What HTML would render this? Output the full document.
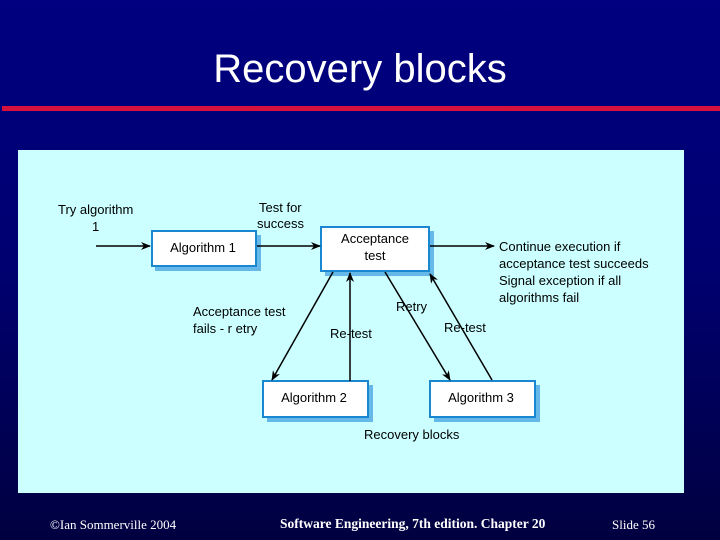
<!DOCTYPE html>
<html><head><meta charset="utf-8"><style>
body{margin:0;width:720px;height:540px;overflow:hidden;background:linear-gradient(#000080 0%,#000070 50%,#000040 100%);font-family:"Liberation Sans",sans-serif;position:relative}
.t{position:absolute;white-space:nowrap}
</style></head><body>
<div class="t" style="left:0;width:720px;text-align:center;top:47px;font-size:40px;color:#fff">Recovery blocks</div>
<div style="position:absolute;left:2px;top:106px;width:718px;height:5px;background:#d8103c"></div>
<svg style="position:absolute;left:0;top:0" width="720" height="540">
<defs><marker id="a" markerWidth="10" markerHeight="8" refX="9" refY="4" orient="auto" markerUnits="userSpaceOnUse"><path d="M0,0L10,4L0,8L3,4z" fill="#000"/></marker></defs>
<rect x="18" y="150" width="666" height="343" fill="#ccffff"/>
<g font-family="Liberation Sans" font-size="13" fill="#000">
<text x="58" y="214">Try algorithm</text><text x="92" y="231">1</text>
<text x="259" y="212">Test for</text><text x="257" y="228">success</text>
<text x="499" y="251">Continue execution if</text>
<text x="499" y="268">acceptance test succeeds</text>
<text x="499" y="285">Signal exception if  all</text>
<text x="499" y="302">algorithms fail</text>
<text x="193" y="316">Acceptance test</text>
<text x="193" y="333">fails - r etry</text>
<text x="396" y="311">Retry</text>
<text x="330" y="338">Re-test</text>
<text x="444" y="332">Re-test</text>
<text x="364" y="439">Recovery blocks</text>
</g>
<g fill="#66b8e8">
<rect x="155" y="235" width="106" height="36"/><rect x="325" y="231" width="109" height="45"/>
<rect x="267" y="385" width="106" height="37"/><rect x="434" y="385" width="106" height="37"/>
</g>
<g fill="#fff" stroke="#1a88d0" stroke-width="2">
<rect x="152" y="231" width="104" height="35"/><rect x="321" y="227" width="108" height="44"/>
<rect x="263" y="381" width="105" height="36"/><rect x="430" y="381" width="105" height="36"/>
</g>
<g font-family="Liberation Sans" font-size="13" fill="#000" text-anchor="middle">
<text x="203" y="252">Algorithm 1</text>
<text x="375" y="243">Acceptance</text><text x="375" y="260">test</text>
<text x="314" y="402">Algorithm 2</text><text x="481" y="402">Algorithm 3</text>
</g>
<g stroke="#000" stroke-width="1.5" marker-end="url(#a)">
<line x1="96" y1="246" x2="150" y2="246"/>
<line x1="257" y1="246" x2="320" y2="246"/>
<line x1="430" y1="246" x2="494" y2="246"/>
<line x1="333" y1="272" x2="272" y2="380"/>
<line x1="350" y1="381" x2="350" y2="273"/>
<line x1="385" y1="272" x2="450" y2="380"/>
<line x1="492" y1="380" x2="430" y2="274"/>
</g>
</svg>
<div class="t" style="left:50px;top:517px;font-family:'Liberation Serif',serif;font-size:13px;color:#fff">©Ian Sommerville 2004</div>
<div class="t" style="left:280px;top:516px;font-family:'Liberation Serif',serif;font-size:13.5px;font-weight:bold;color:#fff">Software Engineering, 7th edition. Chapter 20</div>
<div class="t" style="left:612px;top:517px;font-family:'Liberation Serif',serif;font-size:13px;color:#fff">Slide  56</div>
</body></html>
